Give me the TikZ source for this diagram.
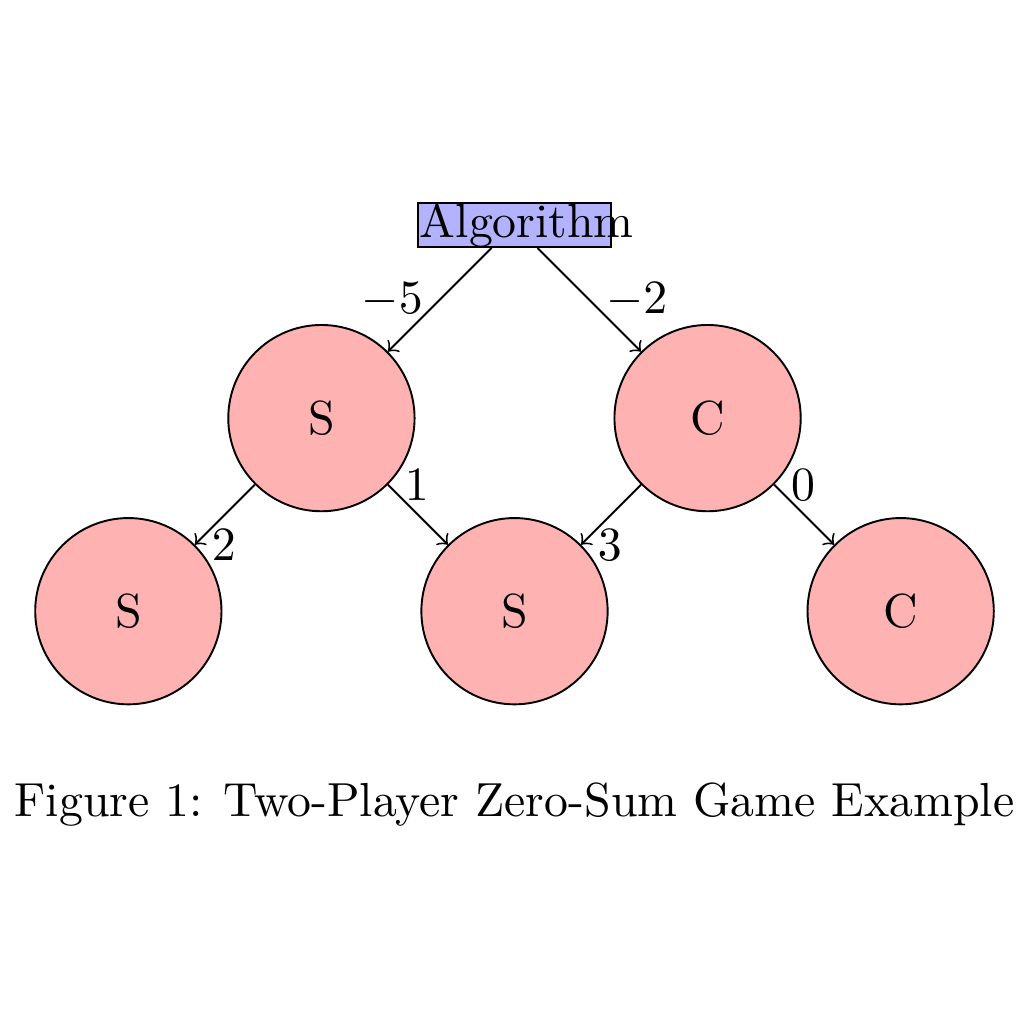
\documentclass[tikz,border=0pt]{standalone}
\usetikzlibrary{positioning}

\begin{document}
\begin{tikzpicture}[
  node distance=1.42cm and 1.42cm,
  on grid,
  player/.style={
    circle,
    draw=black,
    fill=red!30,
    minimum size=1.37cm,
    inner sep=0pt,
  },
  algbox/.style={
    rectangle,
    draw=black,
    fill=blue!30,
    inner xsep=0.4pt,
    inner ysep=0pt,
    text width=39.6pt,
    align=left,
  },
  link/.style={->},
]
  \useasboundingbox (-3.784,-5.876) rectangle (3.747,1.655);

  % --- root and first move ---
  \node[algbox] (alg) at (0,0) {Algorithm};
  \node[player, below left=of alg] (s1) {S};
  \node[player, below right=of alg] (c1) {C};

  % --- second level ---
  \node[player, below left=of s1] (s2) {S};
  \node[player, below right=of s1] (s3) {S};
  \node[player, below right=of c1] (c2) {C};

  \draw[link] (alg) -- node[left] {$-5$} (s1);
  \draw[link] (alg) -- node[right] {$-2$} (c1);
  \draw[link] (s1) -- node[right, at end] {$2$} (s2);
  \draw[link] (s1) -- node[right, at start] {$1$} (s3);
  \draw[link] (c1) -- node[right, at end] {$3$} (s3);
  \draw[link] (c1) -- node[right, at start] {$0$} (c2);

  \node[below=1.42cm of s3] (cap) {Figure 1: Two-Player Zero-Sum Game Example};

\end{tikzpicture}
\end{document}
